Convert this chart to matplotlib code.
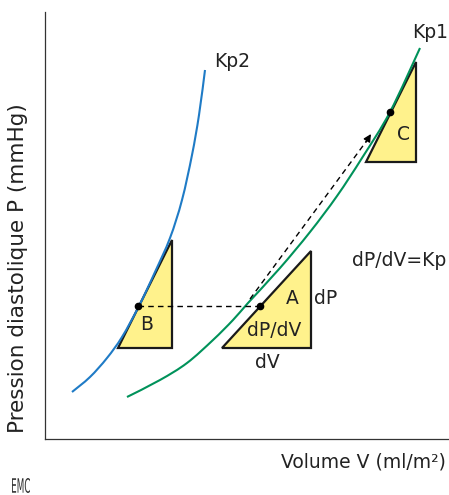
import matplotlib
matplotlib.use("Agg")
import matplotlib.pyplot as plt
from matplotlib.patches import Polygon, PathPatch
from matplotlib.path import Path
from matplotlib.textpath import TextPath
from matplotlib.transforms import Affine2D

# curves (x = volume, y = pressure, in picture units)
kp2_v = [72, 90, 107, 122, 139, 155, 170, 182, 192, 199, 205]
kp2_p = [392, 377, 358, 337, 306, 272, 238, 200, 155, 115, 70]
kp1_v = [127, 160, 187, 213, 233, 248, 280, 310, 337, 362, 390, 420]
kp1_p = [397, 380, 363, 340, 320, 303, 268, 232, 196, 158, 112, 48]

# tangent triangles: (left, right) volume, (bottom, top) pressure
tri_names = ["B", "A", "C"]
tri_v = [(118, 172), (222, 311), (366, 416)]
tri_p = [(348, 240), (348, 251), (162, 62)]
tri_label_pos = [(147, 325), (292, 298), (404, 135)]

# points on the curves
dot_v = [138, 260, 390]
dot_p = [306, 306, 112]

BLUE = "#1f7bc6"
GREEN = "#00925a"
YELLOW = "#fff28c"
INK = "#222222"
FONT = "DejaVu Sans"


def smooth_path(xs, ys):
    # catmull-rom through the read points, drawn as cubic bezier segments
    pts = list(zip(xs, ys))
    verts = [pts[0]]
    codes = [Path.MOVETO]
    for i in range(len(pts) - 1):
        p0 = pts[i - 1] if i > 0 else pts[i]
        p1, p2 = pts[i], pts[i + 1]
        p3 = pts[i + 2] if i + 2 < len(pts) else pts[i + 1]
        c1 = (p1[0] + (p2[0] - p0[0]) / 6, p1[1] + (p2[1] - p0[1]) / 6)
        c2 = (p2[0] - (p3[0] - p1[0]) / 6, p2[1] - (p3[1] - p1[1]) / 6)
        verts += [c1, c2, p2]
        codes += [Path.CURVE4] * 3
    return Path(verts, codes)


fig = plt.figure(figsize=(4.49, 4.95), dpi=100)
ax = fig.add_axes([45 / 449, (495 - 439) / 495, (449 - 45) / 449, (439 - 12) / 495])
ax.set_xlim(45, 449)
ax.set_ylim(439, 12)
ax.set_xticks([])
ax.set_yticks([])
for s in ["top", "right"]:
    ax.spines[s].set_visible(False)
for s in ["left", "bottom"]:
    ax.spines[s].set_linewidth(0.9)
    ax.spines[s].set_color("#333333")

for (v0, v1), (p0, p1), name, (lx, ly) in zip(tri_v, tri_p, tri_names, tri_label_pos):
    tri = Polygon([(v0, p0), (v1, p0), (v1, p1)], closed=True,
                  facecolor=YELLOW, edgecolor="#1a1a1a", lw=1.6, joinstyle="miter", zorder=2)
    ax.add_patch(tri)
    ax.text(lx, ly, name, ha="center", va="center", fontsize=13.5, family=FONT,
            color=INK, zorder=5)

ax.add_patch(PathPatch(smooth_path(kp2_v, kp2_p), fill=False, edgecolor=BLUE, lw=1.5, zorder=3))
ax.add_patch(PathPatch(smooth_path(kp1_v, kp1_p), fill=False, edgecolor=GREEN, lw=1.5, zorder=3))

# dashed guides
ax.plot([dot_v[0], dot_v[1]], [dot_p[0], dot_p[1]], ls=(0, (4, 3)), color="black", lw=1, zorder=4)
ax.plot([250, 368], [299, 139], ls=(0, (4, 3)), color="black", lw=1, zorder=4)
ax.annotate("", xy=(371, 134), xytext=(366, 142),
            arrowprops=dict(arrowstyle="-|>", color="black", lw=1, mutation_scale=11,
                            shrinkA=0, shrinkB=0), zorder=4)

ax.plot(dot_v, dot_p, "o", color="black", ms=4.5, zorder=6)

txt = dict(fontsize=13.5, family=FONT, color=INK, clip_on=False)
ax.text(214, 62, "Kp2", ha="left", va="center", **txt)
ax.text(412, 33, "Kp1", ha="left", va="center", **txt)
ax.text(352, 260, "dP/dV=Kp", ha="left", va="center", **txt)
ax.text(314, 298, "dP", ha="left", va="center", **txt)
ax.text(274, 330, "dP/dV", ha="center", va="center", **txt)
ax.text(267, 362, "dV", ha="center", va="center", **txt)

ax.text(446, 462, "Volume V (ml/m²)", ha="right", va="center", **txt)
ax.text(18, 268, "Pression diastolique P (mmHg)", ha="center", va="center",
        rotation=90, fontsize=15.5, family=FONT, color=INK, clip_on=False)

# condensed "EMC" mark, bottom left
logo = TextPath((0, 0), "EMC", size=10, prop=dict(family=FONT))
bb = logo.get_extents()
logo_tf = Affine2D().translate(-bb.x0, -bb.y0).scale(18 / bb.width, -15 / bb.height).translate(12, 493)
ax.add_patch(PathPatch(logo_tf.transform_path(logo), facecolor="#333333", edgecolor="none",
                       clip_on=False))

fig.savefig("out.png", dpi=100)
